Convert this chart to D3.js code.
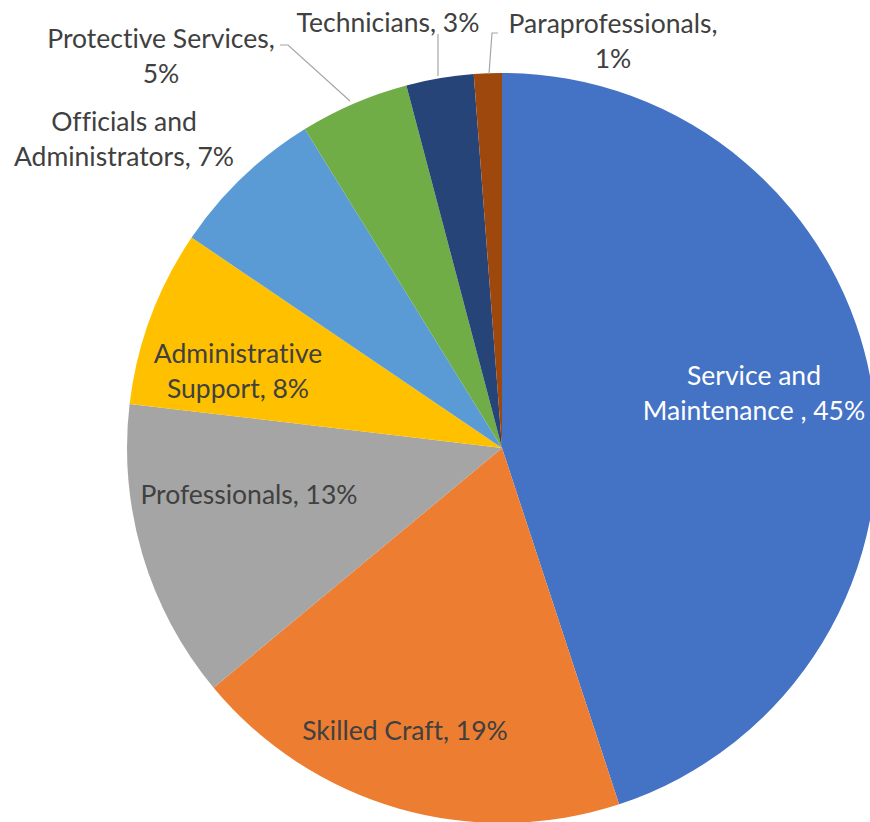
<!DOCTYPE html>
<html>
<head>
<meta charset="utf-8">
<script src="https://cdn.jsdelivr.net/npm/d3@7"></script>
<style>
  html, body { margin: 0; padding: 0; background: #fff; overflow: hidden; }
  svg { display: block; }
  text { font-variant-ligatures: none; font-feature-settings: "liga" 0; }
</style>
</head>
<body>
<svg id="chart" width="870" height="822"></svg>
<script>
// Workforce by job category (share of total employees)
const categories = [
  "Service and Maintenance ",
  "Skilled Craft",
  "Professionals",
  "Administrative Support",
  "Officials and Administrators",
  "Protective Services",
  "Technicians",
  "Paraprofessionals"
];
const values = [44.9, 19.0, 12.9, 7.6, 6.7, 4.7, 2.9, 1.2];
const colors = ["#4472C4", "#ED7D31", "#A5A5A5", "#FFC000", "#5B9BD5", "#70AD47", "#264478", "#9E480E"];

// Label layout: text lines and placement relative to the pie centre
const labelLayout = {
  "Service and Maintenance ": { lines: ["Service and", "Maintenance , {p}"], x: 252, y: -56, fill: "#ffffff" },
  "Skilled Craft":            { lines: ["Skilled Craft, {p}"], x: -97, y: 282, fill: "#404040" },
  "Professionals":            { lines: ["Professionals, {p}"], x: -253, y: 46, fill: "#404040" },
  "Administrative Support":   { lines: ["Administrative", "Support, {p}"], x: -264, y: -78, fill: "#404040" },
  "Officials and Administrators": { lines: ["Officials and", "Administrators, {p}"], x: -378, y: -310, fill: "#404040" },
  "Protective Services":      { lines: ["Protective Services,", "{p}"], x: -341, y: -393, fill: "#404040",
                                leader: [[-222, -403], [-214, -403], [-152, -347]] },
  "Technicians":              { lines: ["Technicians, {p}"], x: -114, y: -426, fill: "#404040",
                                leader: [[-64, -414], [-64, -372]] },
  "Paraprofessionals":        { lines: ["Paraprofessionals,", "{p}"], x: 111, y: -408, fill: "#404040",
                                leader: [[-4, -415], [-10, -415], [-13, -374]] }
};

const cx = 502, cy = 448, radius = 375;

const svg = d3.select("#chart");
const g = svg.append("g").attr("transform", `translate(${cx},${cy})`);

const data = categories.map((c, i) => ({ category: c, value: values[i], color: colors[i] }));
const total = d3.sum(values);
const pct = v => Math.round(v / total * 100) + "%";

const pie = d3.pie().value(d => d.value).sort(null);
const arc = d3.arc().innerRadius(0).outerRadius(radius);
const arcs = pie(data);

g.selectAll("path.slice")
  .data(arcs)
  .join("path")
  .attr("class", "slice")
  .attr("d", arc)
  .attr("fill", d => d.data.color);

// Leader lines for the narrow slices
const line = d3.line();
g.selectAll("path.leader")
  .data(arcs.filter(d => labelLayout[d.data.category].leader))
  .join("path")
  .attr("class", "leader")
  .attr("d", d => line(labelLayout[d.data.category].leader))
  .attr("fill", "none")
  .attr("stroke", "#a6a6a6")
  .attr("stroke-width", 1.2);

// Category labels
const lineHeight = 35;
const labels = g.selectAll("text.label")
  .data(arcs)
  .join("text")
  .attr("class", "label")
  .attr("text-anchor", "middle")
  .attr("font-family", "Lato, 'Open Sans', sans-serif")
  .attr("font-size", 26.5)
  .attr("fill", d => labelLayout[d.data.category].fill);

labels.each(function(d) {
  const L = labelLayout[d.data.category];
  const n = L.lines.length;
  d3.select(this).selectAll("tspan")
    .data(L.lines)
    .join("tspan")
    .attr("x", L.x)
    .attr("y", (s, i) => L.y + (i - (n - 1) / 2) * lineHeight)
    .attr("dominant-baseline", "central")
    .text(s => s.replace("{p}", pct(d.data.value)));
});
</script>
</body>
</html>
